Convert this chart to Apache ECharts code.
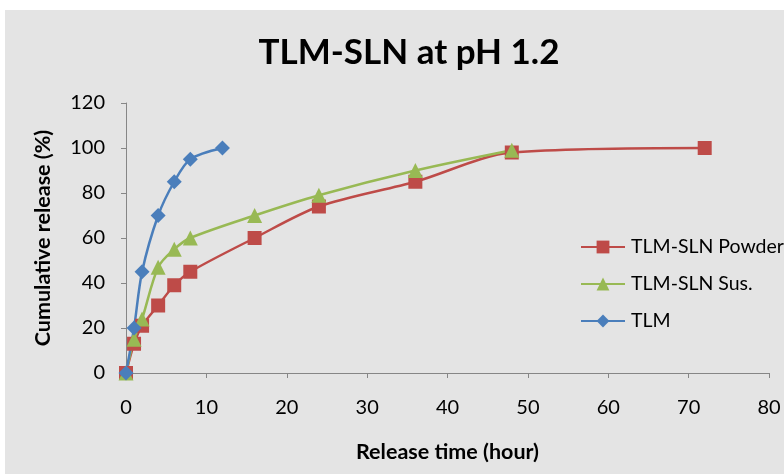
<!DOCTYPE html>
<html><head><meta charset="utf-8">
<script src="https://cdn.jsdelivr.net/npm/echarts@6/dist/echarts.min.js"></script>
<style>html,body{margin:0;padding:0;background:#fff}#c{width:784px;height:474px}</style>
</head><body><div id="c"></div>
<script>
const titleText = 'TLM-SLN at pH 1.2';
const xTicks = [0,10,20,30,40,50,60,70,80];
const yTicks = [0,20,40,60,80,100,120];
const powderTime = [0,1,2,4,6,8,16,24,36,48,72];
const powderVal  = [0,13,21,30,39,45,60,74,85,98,100];
const susTime = [0,1,2,4,6,8,16,24,36,48];
const susVal  = [0,15,24,47,55,60,70,79,90,99];
const tlmTime = [0,1,2,4,6,8,12];
const tlmVal  = [0,20,45,70,85,95,100];
const names = ['TLM-SLN Powder','TLM-SLN Sus.','TLM'];

const pair = (t,v)=>t.map((x,i)=>[x,v[i]]);
const font = 'Lato, "Open Sans", sans-serif';
const chart = echarts.init(document.getElementById('c'));
chart.setOption({
  animation:false,
  graphic:[{type:'rect',z:-10,shape:{x:5,y:10,width:779,height:464},style:{fill:'#e4e4e4'}}],
  title:{text:titleText,left:404,textAlign:'center',top:30,textStyle:{fontFamily:font,fontSize:35,fontWeight:'bold',color:'#000'}},
  legend:{orient:'vertical',left:575,top:232,itemGap:17,itemWidth:44,itemHeight:16,
    textStyle:{fontFamily:font,fontSize:19.5,color:'#000',padding:[0,0,0,1]},data:names},
  grid:{left:126,right:15,top:103,bottom:101},
  xAxis:{type:'value',min:0,max:80,interval:10,
    axisLine:{lineStyle:{color:'#868686',width:1}},axisTick:{show:true,length:5,lineStyle:{color:'#868686'}},
    splitLine:{show:false},
    axisLabel:{fontFamily:font,fontSize:20,color:'#000',margin:25,formatter:v=>xTicks.includes(v)?String(v):''},
    name:'Release time (hour)',nameLocation:'middle',nameGap:68,
    nameTextStyle:{fontFamily:font,fontSize:21.5,fontWeight:'bold',color:'#000'}},
  yAxis:{type:'value',min:0,max:120,interval:20,
    axisLine:{show:true,lineStyle:{color:'#868686',width:1}},axisTick:{show:true,length:5,lineStyle:{color:'#868686'}},
    splitLine:{show:false},
    axisLabel:{fontFamily:font,fontSize:20,color:'#000',margin:21,formatter:v=>yTicks.includes(v)?String(v):''},
    name:'Cumulative release (%)',nameLocation:'middle',nameGap:72,
    nameTextStyle:{fontFamily:font,fontSize:21.5,fontWeight:'bold',color:'#000'}},
  series:[
    {name:names[0],type:'line',smooth:0.3,data:pair(powderTime,powderVal),symbol:'rect',symbolSize:14,
      lineStyle:{color:'#be4b48',width:2.5},itemStyle:{color:'#be4b48'}},
    {name:names[1],type:'line',smooth:0.3,data:pair(susTime,susVal),symbol:'triangle',symbolSize:15,
      lineStyle:{color:'#98b954',width:2.5},itemStyle:{color:'#98b954'}},
    {name:names[2],type:'line',smooth:0.3,data:pair(tlmTime,tlmVal),symbol:'diamond',symbolSize:15,
      lineStyle:{color:'#4a7ebb',width:2.5},itemStyle:{color:'#4a7ebb'}}
  ]
});
</script></body></html>
